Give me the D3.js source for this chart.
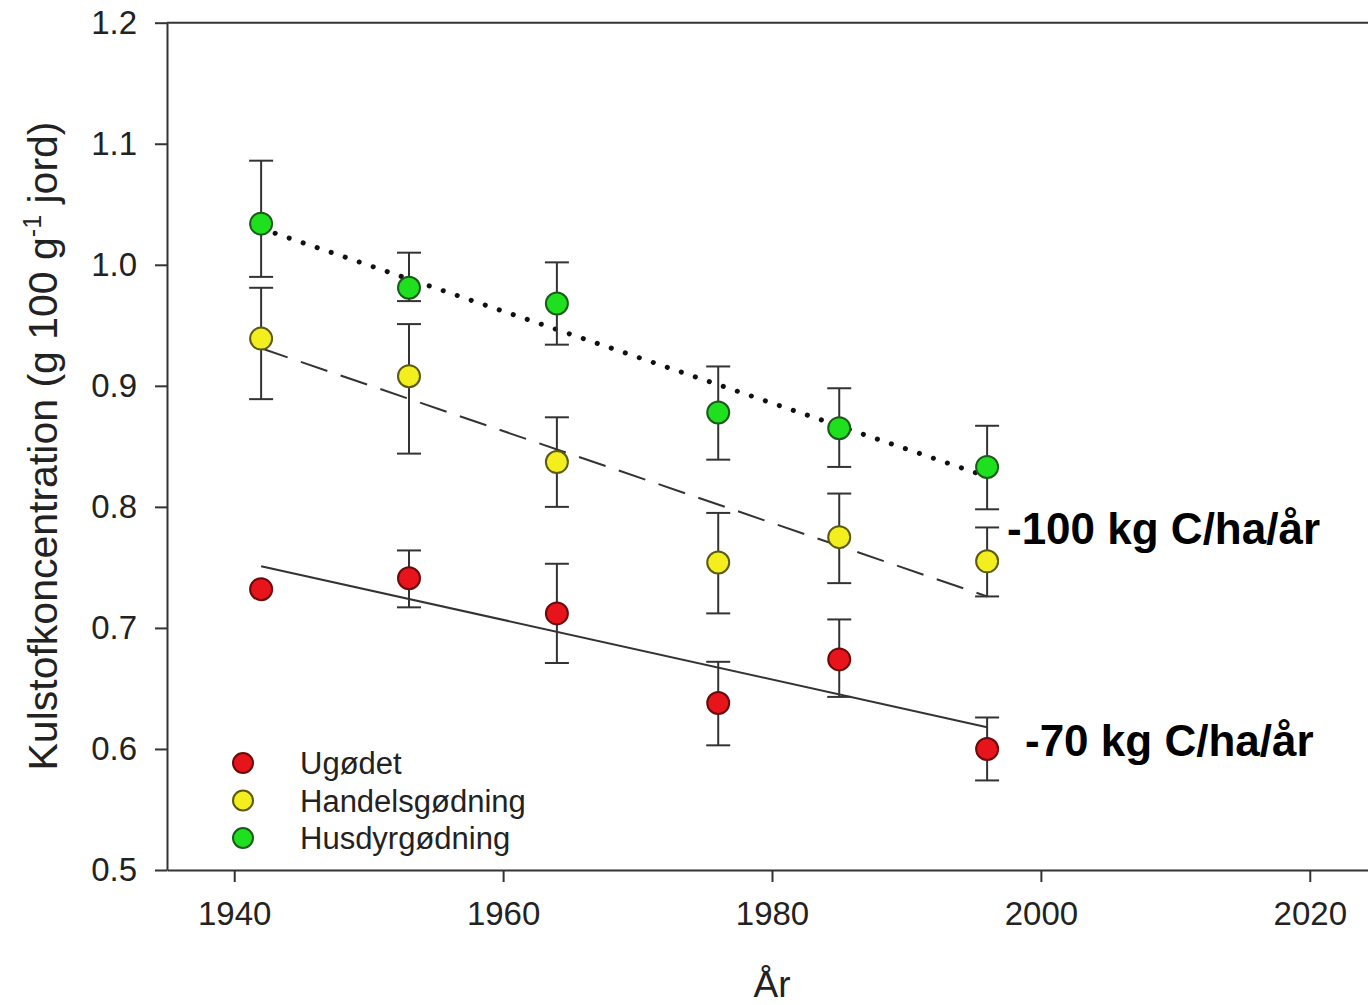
<!DOCTYPE html>
<html>
<head>
<meta charset="utf-8">
<script src="https://cdn.jsdelivr.net/npm/d3@7"></script>
<style>
  body { margin: 0; background: #fff; }
  svg { display: block; }
  text { font-family: "Liberation Sans", Arial, sans-serif; fill: #222; }
</style>
</head>
<body>
<script>
// data
var years = [1942, 1953, 1964, 1976, 1985, 1996];
var series = ["Ugødet", "Handelsgødning", "Husdyrgødning"];
var colors = ["#e8141c", "#f3ee1e", "#1fe01f"];
var strokes = ["#6a0a0a", "#5c5a10", "#1c5a1c"];

var ugodet = [0.732, 0.741, 0.712, 0.638, 0.674, 0.600];
var ugodetLo = [null, 0.717, 0.671, 0.603, 0.643, 0.574];
var ugodetHi = [null, 0.764, 0.753, 0.672, 0.707, 0.626];

var handel = [0.939, 0.908, 0.837, 0.754, 0.775, 0.755];
var handelLo = [0.889, 0.844, 0.800, 0.712, 0.737, 0.726];
var handelHi = [0.981, 0.951, 0.874, 0.795, 0.811, 0.783];

var husdyr = [1.034, 0.981, 0.968, 0.878, 0.865, 0.833];
var husdyrLo = [0.990, 0.970, 0.934, 0.839, 0.833, 0.798];
var husdyrHi = [1.086, 1.010, 1.002, 0.916, 0.898, 0.867];

// regression lines, value at first and last year
var trendUgodet = [0.751, 0.618];
var trendHandel = [0.931, 0.726];
var trendHusdyr = [1.030, 0.825];

var xTicks = [1940, 1960, 1980, 2000, 2020];
var yTicks = [0.5, 0.6, 0.7, 0.8, 0.9, 1.0, 1.1, 1.2];

var rates = ["-100 kg C/ha/år", "-70 kg C/ha/år"];

var width = 1368, height = 1005;

var x = d3.scaleLinear().domain([1935, 2025]).range([167, 1377]);
var y = d3.scaleLinear().domain([0.5, 1.2]).range([870, 22.7]);

var svg = d3.select("body").append("svg")
    .attr("width", width)
    .attr("height", height);

// top frame line
svg.append("line")
    .attr("x1", x(1935)).attr("x2", x(2025))
    .attr("y1", y(1.2)).attr("y2", y(1.2))
    .attr("stroke", "#333").attr("stroke-width", 2);

svg.append("g")
    .attr("transform", `translate(0,${y(0.5)})`)
    .call(d3.axisBottom(x).tickValues(xTicks).tickFormat(d3.format("d"))
      .tickSize(12).tickSizeOuter(0).tickPadding(20));

svg.append("g")
    .attr("transform", `translate(${x(1935)},0)`)
    .call(d3.axisLeft(y).tickValues(yTicks).tickFormat(d3.format(".1f"))
      .tickSize(12).tickSizeOuter(0).tickPadding(18));

svg.selectAll(".domain, .tick line").attr("stroke", "#333").attr("stroke-width", 2);
svg.selectAll(".tick text").attr("font-size", 33).attr("fill", "#222")
    .attr("font-family", "Liberation Sans, Arial, sans-serif");

// axis titles
svg.append("text")
    .attr("x", x(1980)).attr("y", 997)
    .attr("text-anchor", "middle")
    .attr("font-size", 37)
    .text("År");

var yt = svg.append("text")
    .attr("transform", "translate(57,446) rotate(-90)")
    .attr("text-anchor", "middle")
    .attr("font-size", 41);
yt.append("tspan").text("Kulstofkoncentration (g 100 g");
yt.append("tspan").attr("font-size", 25).attr("dy", -16).text("-1");
yt.append("tspan").attr("dy", 16).text(" jord)");

// trend lines
var trends = [
  {v: trendUgodet, dash: null, w: 2, c: "#333", cap: "butt"},
  {v: trendHandel, dash: "28 14", w: 2, c: "#333", cap: "butt"},
  {v: trendHusdyr, dash: "0.1 14.7", w: 5, c: "#111", cap: "round"}
];
svg.append("g").selectAll("line")
  .data(trends)
  .enter().append("line")
    .attr("x1", x(years[0])).attr("x2", x(years[years.length - 1]))
    .attr("y1", d => y(d.v[0])).attr("y2", d => y(d.v[1]))
    .attr("stroke", d => d.c)
    .attr("stroke-width", d => d.w)
    .attr("stroke-linecap", d => d.cap)
    .attr("stroke-dasharray", d => d.dash);

// error bars and points
var groups = [
  {vals: ugodet, lo: ugodetLo, hi: ugodetHi},
  {vals: handel, lo: handelLo, hi: handelHi},
  {vals: husdyr, lo: husdyrLo, hi: husdyrHi}
];

var capW = 12;
groups.forEach(function (g) {
  var withErr = years.map((yr, j) => ({yr: yr, lo: g.lo[j], hi: g.hi[j]}))
    .filter(d => d.lo != null);
  var eb = svg.append("g").attr("stroke", "#333").attr("stroke-width", 2);
  eb.selectAll(".stem").data(withErr).enter().append("line")
    .attr("x1", d => x(d.yr)).attr("x2", d => x(d.yr))
    .attr("y1", d => y(d.lo)).attr("y2", d => y(d.hi));
  eb.selectAll(".caplo").data(withErr).enter().append("line")
    .attr("x1", d => x(d.yr) - capW).attr("x2", d => x(d.yr) + capW)
    .attr("y1", d => y(d.lo)).attr("y2", d => y(d.lo));
  eb.selectAll(".caphi").data(withErr).enter().append("line")
    .attr("x1", d => x(d.yr) - capW).attr("x2", d => x(d.yr) + capW)
    .attr("y1", d => y(d.hi)).attr("y2", d => y(d.hi));
});

groups.forEach(function (g, i) {
  svg.append("g").selectAll("circle")
    .data(years.map((yr, j) => ({yr: yr, v: g.vals[j]})))
    .enter().append("circle")
      .attr("cx", d => x(d.yr))
      .attr("cy", d => y(d.v))
      .attr("r", 11)
      .attr("fill", colors[i])
      .attr("stroke", strokes[i])
      .attr("stroke-width", 2);
});

// legend
var leg = svg.append("g");
series.forEach(function (s, i) {
  leg.append("circle")
    .attr("cx", 243).attr("cy", 763 + i * 37.5)
    .attr("r", 10)
    .attr("fill", colors[i]).attr("stroke", strokes[i]).attr("stroke-width", 2);
  leg.append("text")
    .attr("x", 300).attr("y", 763 + i * 37.5 + 11)
    .attr("font-size", 31)
    .text(s);
});

// rate annotations
svg.append("text")
    .attr("x", 1007).attr("y", 544)
    .attr("font-family", "Open Sans, sans-serif")
    .attr("font-weight", "bold").attr("font-size", 44)
    .style("fill", "#000")
    .text(rates[0]);
svg.append("text")
    .attr("x", 1025).attr("y", 756)
    .attr("font-family", "Open Sans, sans-serif")
    .attr("font-weight", "bold").attr("font-size", 44)
    .style("fill", "#000")
    .text(rates[1]);
</script>
</body>
</html>
